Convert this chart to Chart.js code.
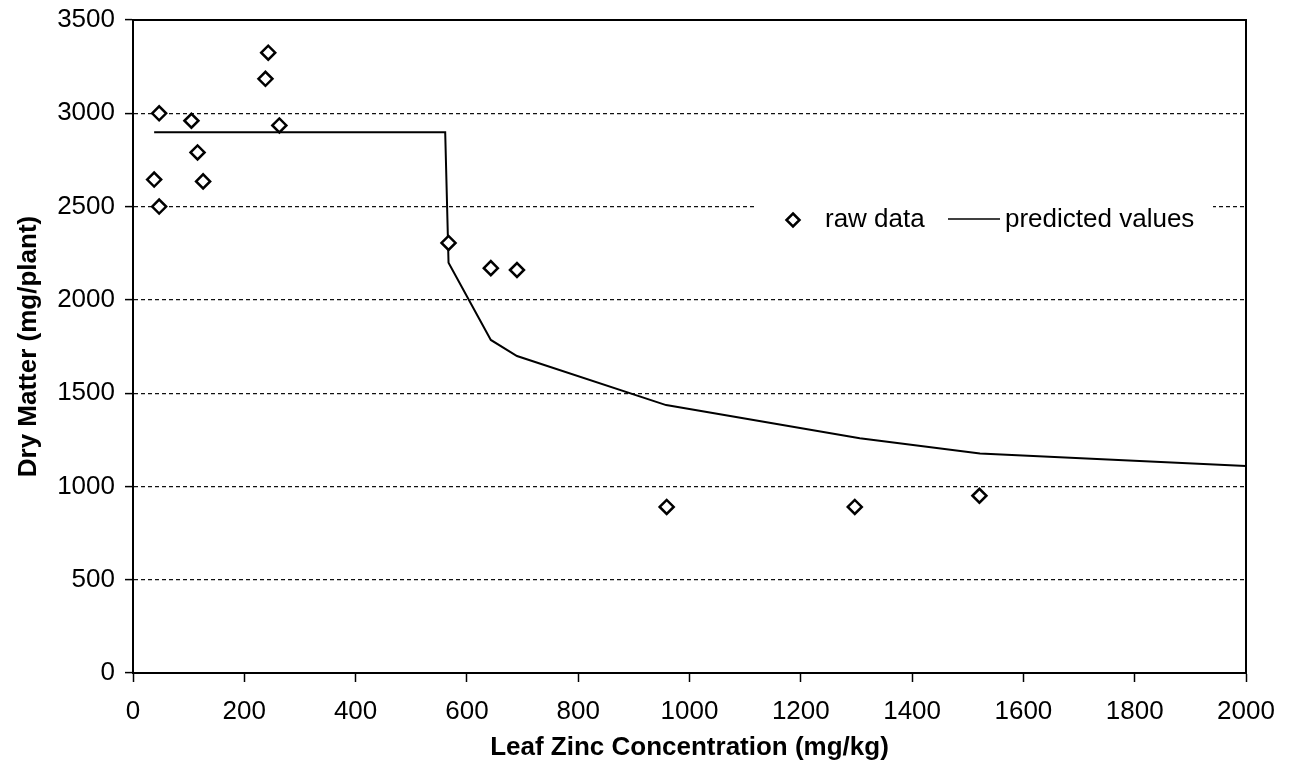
<!DOCTYPE html>
<html>
<head>
<meta charset="utf-8">
<script src="https://cdn.jsdelivr.net/npm/chart.js@4"></script>
<style>
  html, body { margin: 0; padding: 0; background: #fff; }
  #wrap { width: 1290px; height: 775px; }
</style>
</head>
<body>
<div id="wrap"><canvas id="zinc"></canvas></div>
<script>
// raw data (leaf zinc mg/kg vs dry matter mg/plant)
const rawZinc = [38, 47, 47, 105, 116, 126, 238, 243, 263, 567, 643, 690, 959, 1297, 1521];
const rawDry = [2645, 2500, 3000, 2960, 2790, 2635, 3185, 3325, 2935, 2305, 2170, 2160, 890, 890, 950];

// predicted values line
const predZinc = [38, 263, 561, 567, 643, 690, 958, 1306, 1522, 2000];
const predDry = [2898, 2898, 2898, 2199, 1785, 1699, 1436, 1258, 1177, 1109];

const xTickValues = [0, 200, 400, 600, 800, 1000, 1200, 1400, 1600, 1800, 2000];
const yTickValues = [0, 500, 1000, 1500, 2000, 2500, 3000, 3500];

const FONT = "'Liberation Sans', Arial, sans-serif";

// box around plot area (top + right edges)
const frame = {
  id: "frame",
  beforeDatasetsDraw(chart) {
    const { ctx, chartArea: a } = chart;
    ctx.save();
    ctx.strokeStyle = "#000";
    ctx.lineWidth = 2;
    ctx.setLineDash([]);
    ctx.strokeRect(a.left, a.top, a.right - a.left, a.bottom - a.top);
    ctx.restore();
  },
};

// legend sitting inside the plot, on top of the 2500 gridline
const insideLegend = {
  id: "insideLegend",
  afterDraw(chart) {
    const { ctx } = chart;
    const cy = 220;
    ctx.save();
    ctx.fillStyle = "#fff";
    ctx.fillRect(757, 198, 456, 44);

    // diamond
    ctx.strokeStyle = "#000";
    ctx.lineWidth = 2.5;
    ctx.beginPath();
    ctx.moveTo(793, cy - 6.5);
    ctx.lineTo(799.5, cy);
    ctx.lineTo(793, cy + 6.5);
    ctx.lineTo(786.5, cy);
    ctx.closePath();
    ctx.stroke();

    ctx.fillStyle = "#000";
    ctx.font = "26px " + FONT;
    ctx.textBaseline = "middle";
    ctx.fillText("raw data", 825, cy);

    ctx.lineWidth = 1.5;
    ctx.beginPath();
    ctx.moveTo(948, cy - 1);
    ctx.lineTo(1000, cy - 1);
    ctx.stroke();

    ctx.fillText("predicted values", 1005, cy);
    ctx.restore();
  },
};

const ctx = document.getElementById("zinc");
new Chart(ctx, {
  type: "scatter",
  data: {
    datasets: [
      {
        label: "raw data",
        data: rawZinc.map((x, i) => ({ x: x, y: rawDry[i] })),
        pointStyle: "rectRot",
        radius: 7,
        borderColor: "#000",
        backgroundColor: "#fff",
        borderWidth: 2.5,
        showLine: false,
      },
      {
        label: "predicted values",
        data: predZinc.map((x, i) => ({ x: x, y: predDry[i] })),
        showLine: true,
        borderColor: "#000",
        borderWidth: 2,
        pointRadius: 0,
        tension: 0,
      },
    ],
  },
  options: {
    responsive: true,
    maintainAspectRatio: false,
    animation: false,
    devicePixelRatio: 1,
    layout: {
      padding: { left: 0, right: 44, top: 20, bottom: 0 },
    },
    plugins: {
      legend: { display: false },
      tooltip: { enabled: false },
    },
    scales: {
      x: {
        type: "linear",
        min: 0,
        max: 2000,
        afterBuildTicks: (scale) => {
          scale.ticks = xTickValues.map((v) => ({ value: v }));
        },
        afterFit: (scale) => {
          scale.height = 102;
        },
        grid: {
          drawOnChartArea: false,
          drawTicks: true,
          tickLength: 9,
          tickColor: "#000",
          tickWidth: 1.5,
        },
        border: { display: true, color: "#000", width: 2 },
        ticks: {
          color: "#000",
          padding: 14,
          maxRotation: 0,
          font: { family: FONT, size: 26 },
          callback: (v) => String(v),
        },
        title: {
          display: true,
          text: "Leaf Zinc Concentration (mg/kg)",
          color: "#000",
          padding: { top: 4, bottom: 12 },
          font: { family: FONT, size: 26, weight: "bold" },
        },
      },
      y: {
        type: "linear",
        min: 0,
        max: 3500,
        afterBuildTicks: (scale) => {
          scale.ticks = yTickValues.map((v) => ({ value: v }));
        },
        afterFit: (scale) => {
          scale.width = 133;
          scale.paddingTop = 0;
          scale.paddingBottom = 0;
        },
        grid: {
          color: "#111",
          lineWidth: 1.2,
          drawTicks: true,
          tickLength: 8,
          tickColor: "#000",
          tickWidth: 1.5,
          tickBorderDash: [],
        },
        border: { display: true, color: "#000", width: 2, dash: [4, 3] },
        ticks: {
          color: "#000",
          padding: 10,
          font: { family: FONT, size: 26 },
          callback: (v) => String(v),
        },
        title: {
          display: true,
          text: "Dry Matter (mg/plant)",
          color: "#000",
          padding: { top: 13, bottom: 0 },
          font: { family: FONT, size: 26, weight: "bold" },
        },
      },
    },
  },
  plugins: [frame, insideLegend],
});
</script>
</body>
</html>
